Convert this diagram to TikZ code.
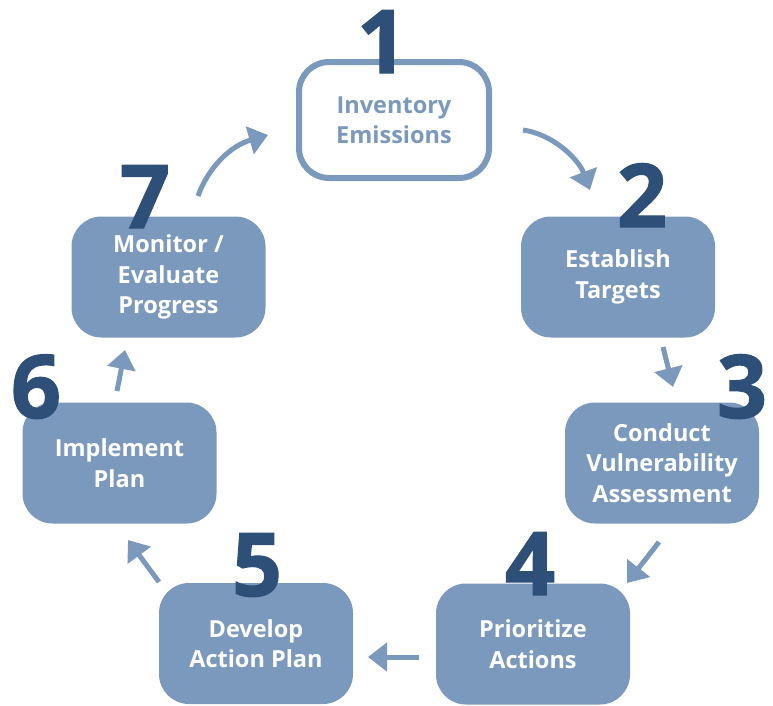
\documentclass[tikz,border=0pt]{standalone}
\usepackage{fontspec}
\setmainfont{Open Sans}
\newfontfamily\numfont[BoldFeatures={FakeBold=1.3}]{Open Sans}
\usetikzlibrary{arrows.meta}
\definecolor{stepblue}{HTML}{7B99BD}
\definecolor{numblue}{HTML}{2E4F78}
\tikzset{
  stepbox/.style={rectangle, rounded corners=30pt, minimum width=194pt,
    minimum height=121pt, inner sep=0pt, fill=stepblue, text=white,
    align=center, font=\bfseries\fontsize{23.5}{30.5}\selectfont},
  firstbox/.style={stepbox, fill=white, draw=stepblue, line width=6pt,
    minimum width=190pt, minimum height=116pt, text=stepblue},
  stepnum/.style={anchor=base, inner sep=0pt, text=numblue,
    font=\numfont\bfseries\fontsize{88}{88}\selectfont},
  flow/.style={draw=stepblue, line width=5pt,
    -{Triangle[length=19pt,width=28pt]}}
}
\begin{document}
\begin{tikzpicture}[x=1pt,y=-1pt]
\useasboundingbox (0,0) rectangle (773,705);
% process boxes
\node[firstbox] (b1) at (394,120)   {Inventory\\Emissions};
\node[stepbox]  (b2) at (618,277) {Establish\\Targets};
\node[stepbox]  (b3) at (662,463)   {Conduct\\Vulnerability\\Assessment};
\node[stepbox]  (b4) at (533,644)   {Prioritize\\Actions};
\node[stepbox]  (b5) at (256,643.5) {Develop\\Action Plan};
\node[stepbox]  (b6) at (119.5,463) {Implement\\Plan};
\node[stepbox]  (b7) at (168.5,277) {Monitor /\\Evaluate\\Progress};
% step numbers
\node[stepnum] (n1) at (382,73)  {1};
\node[stepnum] (n2) at (642,227) {2};
\node[stepnum] (n3) at (742,418) {3};
\node[stepnum] (n4) at (530,595) {4};
\node[stepnum] (n5) at (257,596) {5};
\node[stepnum] (n6) at (36,418)  {6};
\node[stepnum] (n7) at (145,228) {7};
% arrow ends
\coordinate (a1s) at (523,130); \coordinate (a1e) at (590,190);
\coordinate (a2s) at (663,347); \coordinate (a2e) at (673,387);
\coordinate (a3s) at (659,542); \coordinate (a3e) at (627,583);
\coordinate (a4s) at (419,657); \coordinate (a4e) at (368,657);
\coordinate (a5s) at (159,582); \coordinate (a5e) at (128,540);
\coordinate (a6s) at (117,391); \coordinate (a6e) at (125,350);
\coordinate (a7s) at (198,196); \coordinate (a7e) at (268,135);
% arrows
\draw[flow] (a1s) .. controls (552,134) and (578,158) .. (a1e);
\draw[flow] (a2s) -- (a2e);
\draw[flow] (a3s) -- (a3e);
\draw[flow] (a4s) -- (a4e);
\draw[flow] (a5s) -- (a5e);
\draw[flow] (a6s) -- (a6e);
\draw[flow] (a7s) .. controls (208,168) and (230,146) .. (a7e);
\end{tikzpicture}
\end{document}
